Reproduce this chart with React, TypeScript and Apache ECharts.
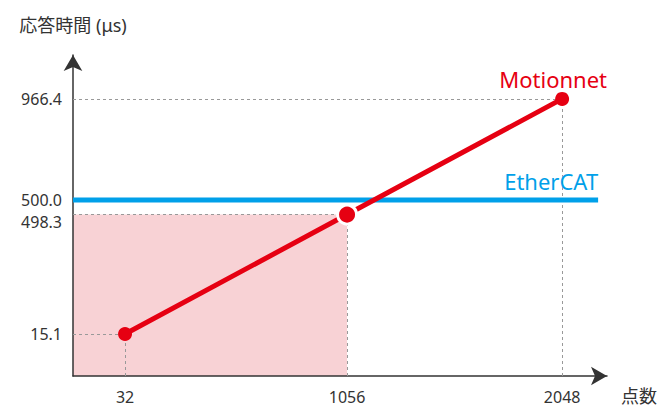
import React, { useEffect, useRef } from "react";
import * as echarts from "echarts";

// ---- data ----
const xTicks = [32, 1056, 2048];
const motionnetValues = [15.1, 498.3, 966.4];
const etherCatValue = 500.0;
const yTicksMotionnet = [15.1, 498.3, 966.4];
const yTicksEtherCAT = [500.0];
const seriesNames = ["Motionnet", "EtherCAT"];
const yAxisName = "応答時間 (μs)";
const xAxisName = "点数";

// axis ranges (schematic chart)
const X_MIN = -208;
const X_MAX = 2255;
const Y_MIN = -155;
const Y_MAX = 1144;
const Y2_MAX = 1040;
const ETHERCAT_X_END = 2214;

const RED = "#e60012";
const BLUE = "#00a0e9";
const PINK = "#f8d2d5";
const FONT = "'Noto Sans', 'Noto Sans CJK JP', sans-serif";

export default function App() {
  const ref = useRef<HTMLDivElement>(null);

  useEffect(() => {
    if (!ref.current) return;
    const chart = echarts.init(ref.current, undefined, { renderer: "svg" });

    const guideLines: any[] = [];
    xTicks.forEach((x, i) => {
      const y = motionnetValues[i];
      guideLines.push([{ coord: [X_MIN, y] }, { coord: [x, y] }]);
      guideLines.push([{ coord: [x, Y_MIN] }, { coord: [x, y] }]);
    });

    const axisLine = {
      show: true,
      onZero: false,
      symbol: ["none", "arrow"],
      symbolSize: [14, 16],
      lineStyle: { color: "#333", width: 1.5 },
    };

    const labelText = { fontSize: 16, color: "#333", fontFamily: FONT };

    chart.setOption({
      animation: false,
      textStyle: { fontFamily: FONT },
      grid: { left: 73, right: 56, top: 55, bottom: 41 },
      xAxis: {
        type: "value",
        min: X_MIN,
        max: X_MAX,
        name: xAxisName,
        nameLocation: "end",
        nameGap: 14,
        nameTextStyle: {
          fontSize: 18,
          color: "#333",
          align: "left",
          verticalAlign: "top",
          padding: [11, 0, 0, 0],
          fontFamily: FONT,
        },
        axisLine,
        axisTick: { show: false },
        splitLine: { show: false },
        axisLabel: {
          customValues: xTicks,
          formatter: (v: number) => String(v),
          ...labelText,
          margin: 13,
        },
      },
      yAxis: [
        {
          type: "value",
          min: Y_MIN,
          max: Y_MAX,
          name: yAxisName,
          nameLocation: "end",
          nameGap: 21,
          nameTextStyle: { fontSize: 18, color: "#333", fontFamily: FONT },
          axisLine,
          axisTick: { show: false },
          splitLine: { show: false },
          axisLabel: {
            customValues: yTicksMotionnet,
            formatter: (v: number) =>
              Math.abs(v - motionnetValues[1]) < 1e-6
                ? `{low|${v.toFixed(1)}}`
                : `{n|${v.toFixed(1)}}`,
            ...labelText,
            margin: 11,
            rich: {
              n: { ...labelText },
              low: { ...labelText, padding: [14, 0, 0, 0] },
            },
          },
        },
        {
          type: "value",
          position: "left",
          min: Y_MIN,
          max: Y2_MAX,
          axisLine: { show: false },
          axisTick: { show: false },
          splitLine: { show: false },
          axisLabel: {
            customValues: yTicksEtherCAT,
            formatter: (v: number) => v.toFixed(1),
            ...labelText,
            margin: 11,
          },
        },
      ],
      series: [
        {
          type: "line",
          name: seriesNames[1],
          yAxisIndex: 1,
          z: 2,
          symbol: "circle",
          symbolSize: 0,
          lineStyle: { color: BLUE, width: 5 },
          itemStyle: { color: BLUE },
          data: [
            { value: [X_MIN, etherCatValue] },
            {
              value: [ETHERCAT_X_END, etherCatValue],
              label: {
                show: true,
                position: "top",
                align: "right",
                distance: 8,
                formatter: seriesNames[1],
                color: BLUE,
                fontSize: 22,
                fontFamily: FONT,
              },
            },
          ],
        },
        {
          type: "line",
          name: seriesNames[0],
          yAxisIndex: 0,
          z: 3,
          symbol: "circle",
          showSymbol: true,
          lineStyle: { color: RED, width: 5 },
          itemStyle: { color: RED },
          data: xTicks.map((x, i) => ({
            value: [x, motionnetValues[i]],
            symbolSize: i === 1 ? 19 : 14,
            itemStyle:
              i === 1
                ? { color: RED, borderColor: "#fff", borderWidth: 3 }
                : { color: RED },
            label:
              i === xTicks.length - 1
                ? {
                    show: true,
                    position: "top",
                    distance: 2,
                    offset: [-9, 0],
                    formatter: seriesNames[0],
                    color: RED,
                    fontSize: 22,
                    fontFamily: FONT,
                  }
                : { show: false },
          })),
          markLine: {
            silent: true,
            z: 1,
            symbol: ["none", "none"],
            label: { show: false },
            lineStyle: { color: "#999", width: 1, type: [3, 3] },
            data: guideLines,
          },
          markArea: {
            silent: true,
            z: 0,
            itemStyle: { color: PINK },
            data: [
              [
                { coord: [X_MIN, Y_MIN] },
                { coord: [xTicks[1], motionnetValues[1]] },
              ],
            ],
          },
        },
      ],
    });

    return () => chart.dispose();
  }, []);

  return (
    <div
      ref={ref}
      style={{ position: "fixed", left: 0, top: 0, width: 663, height: 417, background: "#fff" }}
    />
  );
}
